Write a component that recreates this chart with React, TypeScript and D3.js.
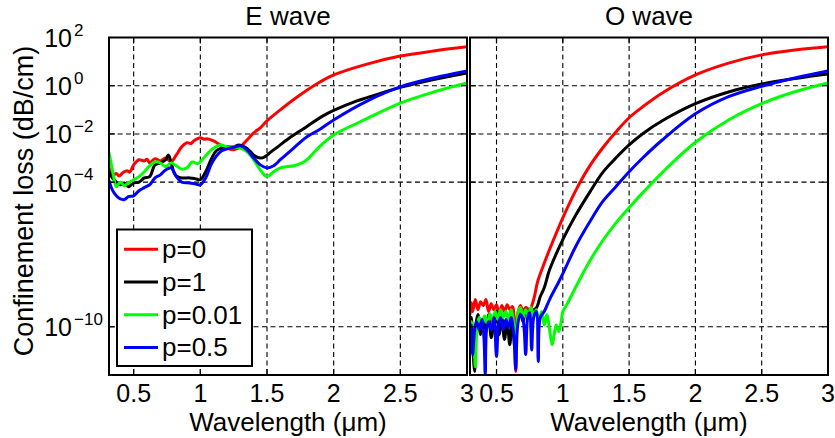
import React from "react";
import * as d3 from "d3";

type Pt = [number, number];

const panelTitles = ["E wave", "O wave"];
const xTickValues = [0.5, 1, 1.5, 2, 2.5, 3];
const yTickExponents = [2, 0, -2, -4, -10];
const seriesLabels = ["p=0", "p=1", "p=0.01", "p=0.5"];
const seriesColors = ["#ff0000", "#000000", "#00ff00", "#0000ff"];
const xLabel = "Wavelength (\u03bcm)";
const yLabel = "Confinement loss (dB/cm)";

// E wave, p=0
const eWaveP0: Pt[] = [
  [0.315, 3.9e-4], [0.35, 2.0e-4], [0.37, 2.3e-4], [0.39, 1.8e-4], [0.42, 2.5e-4], [0.45, 3.0e-4],
  [0.47, 2.6e-4], [0.5, 5.2e-4], [0.54, 8.5e-4], [0.58, 7.6e-4], [0.6, 9.0e-4], [0.62, 6.3e-4],
  [0.66, 9.3e-4], [0.7, 7.6e-4], [0.74, 1.0e-3], [0.78, 6.9e-4], [0.82, 1.35e-3], [0.86, 2.9e-3],
  [0.9, 4.3e-3], [0.93, 4.0e-3], [0.95, 5.1e-3], [1.0, 6.9e-3], [1.03, 6.0e-3], [1.05, 6.3e-3],
  [1.1, 5.1e-3], [1.15, 3.5e-3], [1.2, 2.6e-3], [1.25, 2.2e-3], [1.3, 2.9e-3], [1.35, 5.6e-3],
  [1.4, 1.1e-2], [1.45, 1.8e-2], [1.5, 3.5e-2], [1.6, 0.1], [1.75, 0.42], [1.9, 1.45], [2.0, 2.8],
  [2.25, 7.9], [2.5, 17], [2.75, 27.5], [3.0, 41],
];
// E wave, p=1
const eWaveP1: Pt[] = [
  [0.315, 2.7e-4], [0.34, 1.5e-4], [0.37, 1.0e-4], [0.4, 7.8e-5], [0.43, 9.3e-5], [0.46, 6.5e-5],
  [0.5, 9.3e-5], [0.54, 1.0e-4], [0.58, 1.5e-4], [0.62, 1.7e-4], [0.66, 5.2e-4], [0.7, 6.3e-4],
  [0.74, 8.5e-4], [0.76, 1.35e-3], [0.78, 6.9e-4], [0.8, 2.7e-4], [0.82, 1.8e-4], [0.86, 1.5e-4],
  [0.92, 1.5e-4], [0.96, 1.4e-4], [1.0, 1.26e-4], [1.04, 2.7e-4], [1.08, 8.5e-4], [1.12, 2.0e-3],
  [1.16, 2.6e-3], [1.2, 2.9e-3], [1.25, 2.9e-3], [1.29, 3.5e-3], [1.33, 2.9e-3], [1.37, 2.0e-3],
  [1.41, 1.2e-3], [1.45, 1.0e-3], [1.48, 1.1e-3], [1.53, 1.8e-3], [1.58, 2.9e-3], [1.68, 7.6e-3],
  [1.75, 1.35e-2], [1.92, 5.6e-2], [2.0, 9.5e-2], [2.17, 0.23], [2.25, 0.32], [2.5, 0.85],
  [2.75, 1.8], [3.0, 3.4],
];
// E wave, p=0.01
const eWaveP001: Pt[] = [
  [0.315, 1.65e-3], [0.33, 6.3e-4], [0.35, 1.7e-4], [0.37, 6.5e-5], [0.4, 1.0e-4], [0.43, 7.1e-5],
  [0.46, 9.3e-5], [0.5, 1.26e-4], [0.54, 1.7e-4], [0.58, 2.7e-4], [0.62, 4.8e-4], [0.66, 6.9e-4],
  [0.7, 6.3e-4], [0.74, 4.4e-4], [0.78, 6.3e-4], [0.82, 4.8e-4], [0.86, 3.5e-4], [0.9, 3.9e-4],
  [0.94, 6.9e-4], [0.98, 5.8e-4], [1.02, 9.3e-4], [1.06, 1.65e-3], [1.1, 2.6e-3], [1.15, 3.5e-3],
  [1.2, 2.9e-3], [1.26, 2.9e-3], [1.3, 2.6e-3], [1.35, 1.8e-3], [1.4, 8.5e-4], [1.45, 3.2e-4],
  [1.5, 1.7e-4], [1.55, 2.7e-4], [1.6, 3.9e-4], [1.7, 4.8e-4], [1.75, 5.8e-4], [1.8, 8.5e-4],
  [1.85, 1.65e-3], [1.9, 3.2e-3], [2.0, 9.1e-3], [2.2, 3.2e-2], [2.5, 0.19], [2.75, 0.55], [3.0, 1.3],
];
// E wave, p=0.5
const eWaveP05: Pt[] = [
  [0.315, 1.15e-4], [0.34, 4.8e-5], [0.37, 2.7e-5], [0.4, 2.0e-5], [0.43, 1.9e-5], [0.46, 2.5e-5],
  [0.5, 2.7e-5], [0.54, 4.4e-5], [0.58, 5.9e-5], [0.62, 7.8e-5], [0.66, 1.5e-4], [0.7, 2.0e-4],
  [0.74, 3.2e-4], [0.78, 3.9e-4], [0.82, 1.7e-4], [0.86, 1.0e-4], [0.92, 9.3e-5], [0.96, 8.5e-5],
  [1.0, 7.8e-5], [1.04, 1.5e-4], [1.08, 5.2e-4], [1.12, 1.2e-3], [1.16, 2.0e-3], [1.2, 2.4e-3],
  [1.26, 2.9e-3], [1.3, 3.2e-3], [1.35, 2.2e-3], [1.4, 1.0e-3], [1.45, 5.2e-4], [1.5, 3.9e-4],
  [1.55, 4.8e-4], [1.6, 8.5e-4], [1.7, 2.6e-3], [1.8, 7.6e-3], [1.9, 1.6e-2], [2.0, 3.8e-2],
  [2.25, 0.23], [2.5, 0.89], [2.75, 2.1], [3.0, 4.1],
];

// O wave, p=0
const oWaveP0: Pt[] = [
  [0.3, 3.2e-10], [0.31, 1.0e-9], [0.32, 4.3e-10], [0.34, 1.35e-9], [0.36, 5.1e-10], [0.38, 1.1e-9],
  [0.4, 7.6e-10], [0.42, 1.35e-9], [0.44, 4.3e-10], [0.46, 9.1e-10], [0.48, 5.1e-10], [0.5, 8.3e-10],
  [0.52, 3.2e-10], [0.54, 7.6e-10], [0.56, 4.3e-10], [0.58, 8.3e-10], [0.6, 5.1e-10], [0.62, 6.9e-10],
  [0.635, 7.6e-11], [0.645, 1.4e-12], [0.655, 2.4e-10], [0.68, 7.6e-10], [0.7, 4.3e-10], [0.72, 6.3e-10],
  [0.75, 5.1e-10], [0.78, 1.35e-9], [0.81, 7.4e-9], [0.85, 3.1e-8], [0.9, 1.6e-7], [1.0, 3.3e-6],
  [1.1, 4.8e-5], [1.2, 4.4e-4], [1.3, 2.6e-3], [1.4, 1.2e-2], [1.5, 4.7e-2], [1.6, 0.13], [1.75, 0.5],
  [2.0, 2.8], [2.25, 8.7], [2.5, 19], [2.75, 30], [3.0, 41],
];
// O wave, p=1
const oWaveP1: Pt[] = [
  [0.3, 7.6e-11], [0.31, 2.4e-10], [0.32, 1.8e-11], [0.335, 1.4e-12], [0.345, 1.2e-10], [0.36, 3.2e-10],
  [0.38, 4.8e-11], [0.4, 2.0e-10], [0.42, 7.6e-11], [0.44, 3.2e-10], [0.46, 3.5e-11], [0.48, 1.6e-10],
  [0.5, 4.3e-10], [0.52, 4.8e-11], [0.54, 2.4e-10], [0.56, 3.0e-11], [0.58, 1.6e-10], [0.6, 1.8e-11],
  [0.62, 2.0e-10], [0.64, 1.1e-11], [0.66, 2.4e-10], [0.68, 4.3e-10], [0.7, 1.6e-10], [0.72, 5.1e-10],
  [0.74, 2.9e-10], [0.76, 4.3e-10], [0.8, 6.0e-10], [0.83, 1.8e-9], [0.86, 4.2e-9], [0.9, 2.3e-8],
  [1.0, 4.1e-7], [1.1, 4.5e-6], [1.2, 3.6e-5], [1.3, 2.5e-4], [1.4, 1.0e-3], [1.5, 3.5e-3],
  [1.6, 1.0e-2], [1.75, 3.5e-2], [2.0, 0.18], [2.25, 0.55], [2.5, 1.17], [2.75, 2.0], [3.0, 3.1],
];
// O wave, p=0.01
const oWaveP001: Pt[] = [
  [0.3, 4.8e-11], [0.31, 1.6e-10], [0.325, 7.6e-11], [0.34, 2.2e-12], [0.355, 1.2e-10], [0.37, 2.4e-10],
  [0.39, 1.1e-10], [0.41, 2.9e-10], [0.43, 1.35e-10], [0.45, 3.5e-10], [0.47, 1.6e-10], [0.49, 4.3e-10],
  [0.51, 2.0e-10], [0.53, 5.1e-10], [0.55, 2.4e-10], [0.57, 4.3e-10], [0.59, 2.0e-10], [0.61, 5.1e-10],
  [0.63, 1.2e-10], [0.645, 2.7e-12], [0.66, 3.2e-10], [0.68, 6.3e-10], [0.7, 2.4e-10], [0.72, 5.1e-10],
  [0.74, 2.9e-10], [0.76, 6.3e-10], [0.78, 2.4e-10], [0.8, 5.1e-10], [0.82, 1.6e-10], [0.84, 4.3e-10],
  [0.86, 1.2e-10], [0.88, 3.2e-10], [0.9, 7.6e-11], [0.92, 1.8e-11], [0.935, 4.8e-11], [0.95, 1.2e-10],
  [0.97, 6.3e-11], [0.99, 2.0e-10], [1.0, 4.3e-10], [1.03, 8.3e-10], [1.05, 1.35e-9], [1.1, 4.7e-9],
  [1.2, 5.0e-8], [1.3, 3.7e-7], [1.4, 2.0e-6], [1.5, 8.7e-6], [1.6, 3.5e-5], [1.75, 2.5e-4],
  [2.0, 4.5e-3], [2.25, 3.8e-2], [2.5, 0.18], [2.75, 0.56], [3.0, 1.3],
];
// O wave, p=0.5
const oWaveP05: Pt[] = [
  [0.3, 3.0e-11], [0.31, 1.2e-10], [0.32, 7.1e-12], [0.335, 7.6e-11], [0.35, 1.6e-10], [0.37, 7.6e-11],
  [0.39, 2.0e-10], [0.405, 3.5e-11], [0.415, 1.05e-12], [0.425, 7.6e-11], [0.44, 1.6e-10], [0.46, 7.6e-11],
  [0.48, 2.4e-10], [0.5, 5.8e-12], [0.515, 1.2e-10], [0.53, 2.4e-10], [0.55, 7.6e-11], [0.57, 2.0e-10],
  [0.59, 9.3e-11], [0.61, 2.4e-10], [0.63, 4.8e-11], [0.645, 1.7e-12], [0.66, 1.2e-10], [0.68, 3.2e-10],
  [0.7, 2.0e-10], [0.72, 7.1e-12], [0.735, 2.4e-10], [0.75, 3.9e-10], [0.765, 1.1e-11], [0.78, 2.4e-10],
  [0.8, 4.3e-10], [0.815, 3.6e-12], [0.83, 2.4e-10], [0.86, 4.3e-10], [0.9, 1.35e-9], [0.97, 7.4e-9],
  [1.0, 1.6e-8], [1.1, 2.3e-7], [1.2, 2.1e-6], [1.3, 1.55e-5], [1.4, 6.5e-5], [1.5, 2.7e-4],
  [1.6, 9.8e-4], [1.75, 5.6e-3], [2.0, 6.8e-2], [2.25, 0.35], [2.5, 0.95], [2.75, 2.1], [3.0, 4.1],
];

const FONT = "'Liberation Sans', Arial, Helvetica, sans-serif";

export default function App() {
  const top = 37.5;
  const bottom = 375;
  const yScale = d3.scaleLog().domain([1e-12, 1e2]).range([bottom, top]);
  const panels = [
    {
      title: panelTitles[0],
      x: d3.scaleLinear().domain([0.315, 3]).range([109, 467]),
      series: [eWaveP0, eWaveP1, eWaveP001, eWaveP05],
    },
    {
      title: panelTitles[1],
      x: d3.scaleLinear().domain([0.3, 3]).range([470, 828]),
      series: [oWaveP0, oWaveP1, oWaveP001, oWaveP05],
    },
  ];
  const tickLen = 6;
  const legendX = 117;
  const legendY = 229.5;
  const legendRow = 32.7;

  return (
    <svg
      width={835}
      height={438}
      style={{ position: "absolute", left: 0, top: 0, background: "#fff" }}
      fontFamily={FONT}
    >
      <rect width={835} height={438} fill="#fff" />
      <defs>
        {panels.map((p, i) => {
          const [x0, x1] = p.x.range();
          return (
            <clipPath id={`plotclip${i}`} key={i}>
              <rect x={x0} y={top} width={x1 - x0} height={bottom - top} />
            </clipPath>
          );
        })}
      </defs>
      {panels.map((p, i) => {
        const [x0, x1] = p.x.range();
        const line = d3
          .line<Pt>()
          .x((d) => p.x(d[0]))
          .y((d) => yScale(d[1]))
          .curve(d3.curveCatmullRom.alpha(0.5));
        return (
          <g key={i}>
            {xTickValues
              .filter((v) => v < 3)
              .map((v) => (
                <line
                  key={"gx" + v}
                  x1={p.x(v)}
                  x2={p.x(v)}
                  y1={top}
                  y2={bottom}
                  stroke="#000"
                  strokeWidth={1.1}
                  strokeDasharray="5,3.5"
                />
              ))}
            {yTickExponents
              .filter((e) => e < 2)
              .map((e) => (
                <line
                  key={"gy" + e}
                  x1={x0}
                  x2={x1}
                  y1={yScale(Math.pow(10, e))}
                  y2={yScale(Math.pow(10, e))}
                  stroke="#000"
                  strokeWidth={1.1}
                  strokeDasharray="5,3.5"
                />
              ))}
            <g clipPath={`url(#plotclip${i})`}>
              {p.series.map((s, k) => (
                <path
                  key={k}
                  d={line(s) || ""}
                  fill="none"
                  stroke={seriesColors[k]}
                  strokeWidth={3}
                  strokeLinejoin="round"
                  strokeLinecap="round"
                />
              ))}
            </g>
            {xTickValues
              .filter((v) => v < 3)
              .map((v) => (
                <g key={"tx" + v}>
                  <line x1={p.x(v)} x2={p.x(v)} y1={bottom} y2={bottom - tickLen} stroke="#000" strokeWidth={1.2} />
                  <line x1={p.x(v)} x2={p.x(v)} y1={top} y2={top + tickLen} stroke="#000" strokeWidth={1.2} />
                </g>
              ))}
            {yTickExponents
              .filter((e) => e < 2)
              .map((e) => (
                <g key={"ty" + e}>
                  <line x1={x0} x2={x0 + tickLen} y1={yScale(Math.pow(10, e))} y2={yScale(Math.pow(10, e))} stroke="#000" strokeWidth={1.2} />
                  <line x1={x1} x2={x1 - tickLen} y1={yScale(Math.pow(10, e))} y2={yScale(Math.pow(10, e))} stroke="#000" strokeWidth={1.2} />
                </g>
              ))}
            <rect x={x0} y={top} width={x1 - x0} height={bottom - top} fill="none" stroke="#000" strokeWidth={2} />
            {xTickValues.map((v) => (
              <text key={"xl" + v} x={p.x(v)} y={402} textAnchor="middle" fontSize={25} fill="#000">
                {String(v)}
              </text>
            ))}
            <text x={(x0 + x1) / 2} y={431} textAnchor="middle" fontSize={26} fill="#000">
              {xLabel}
            </text>
            <text x={(x0 + x1) / 2} y={25} textAnchor="middle" fontSize={26} fill="#000">
              {p.title}
            </text>
          </g>
        );
      })}
      {yTickExponents.map((e) => {
        const yy = yScale(Math.pow(10, e));
        return (
          <g key={"yl" + e}>
            <text x={72} y={yy + 9.5} textAnchor="end" fontSize={25} fill="#000">
              10
            </text>
            <text x={74} y={yy - 2} textAnchor="start" fontSize={17} fill="#000">
              {e < 0 ? "\u2212" + Math.abs(e) : String(e)}
            </text>
          </g>
        );
      })}
      <text transform="translate(33,201) rotate(-90)" textAnchor="middle" fontSize={27} fill="#000">
        {yLabel}
      </text>
      <g>
        <rect x={legendX} y={legendY} width={135} height={136.5} fill="#fff" stroke="#000" strokeWidth={2} />
        {seriesLabels.map((lab, k) => {
          const ly = 249.3 + k * legendRow;
          return (
            <g key={lab}>
              <line x1={124} x2={158} y1={ly} y2={ly} stroke={seriesColors[k]} strokeWidth={3} />
              <text x={162} y={ly + 9} fontSize={26} fill="#000">
                {lab}
              </text>
            </g>
          );
        })}
      </g>
    </svg>
  );
}
